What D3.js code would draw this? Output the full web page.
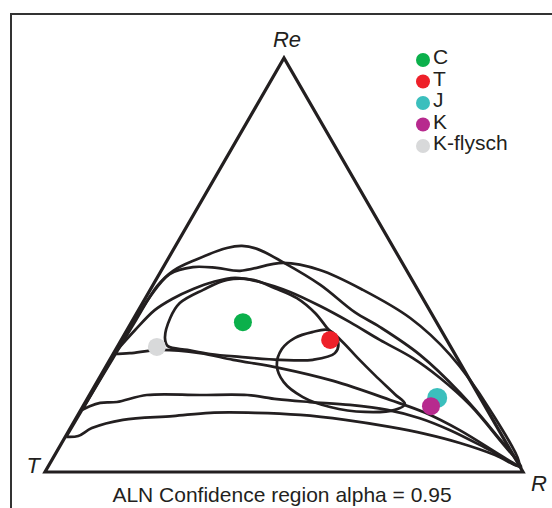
<!DOCTYPE html>
<html>
<head>
<meta charset="utf-8">
<script src="https://cdn.jsdelivr.net/npm/d3@7"></script>
<style>
  body { margin: 0; background: #fff; }
  svg { display: block; font-family: "Liberation Sans", Arial, sans-serif; }
</style>
</head>
<body>
<svg id="chart"></svg>
<script>
// groups and their mean compositions, in % of R and Re (T = 100 - R - Re)
const groups = ["C", "T", "J", "K", "K-flysch"];
const groupR = [23.3, 43.7, 73.1, 72.8, 8.3];
const groupRe = [36.2, 31.9, 17.9, 15.9, 30.2];
const groupColors = ["#0bb04b", "#ee2029", "#3bbfbd", "#b72a8e", "#d8d9da"];

const vertexLabels = ["T", "R", "Re"];
const title = "ALN Confidence region alpha = 0.95";

// confidence region outlines, [R, Re] in %
const regionA = [[0.2, 8.5], [0.3, 17.4], [0.5, 27.1], [0.7, 36.7], [1.0, 44.9], [2.5, 48.6], [6.1, 51.4],
  [11.0, 54.1], [13.9, 54.6], [17.4, 53.9], [24.4, 50.7], [35.0, 45.2], [45.5, 38.6], [52.6, 35.0],
  [64.3, 28.3], [77.3, 19.1], [89.4, 9.4], [98.6, 1.4], [92.1, 4.1], [83.3, 7.0], [74.9, 9.2],
  [66.7, 10.9], [56.5, 12.6], [46.5, 13.8], [36.8, 14.3], [27.4, 14.3], [20.0, 13.5], [10.0, 12.6],
  [4.5, 10.6], [2.6, 8.7], [0.2, 8.5]];
const regionB = [[0.3, 15.0], [0.3, 23.7], [0.4, 33.1], [0.8, 42.3], [2.2, 47.8], [6.2, 49.5], [11.3, 49.3],
  [16.5, 48.6], [24.6, 50.5], [33.1, 48.8], [44.5, 44.0], [57.8, 37.2], [70.6, 28.3], [85.6, 15.0],
  [98.3, 1.7], [90.4, 5.3], [79.7, 10.1], [71.9, 13.0], [64.1, 15.0], [55.7, 16.2], [47.0, 16.9],
  [39.7, 17.6], [33.0, 18.6], [23.1, 18.6], [12.0, 18.6], [6.6, 16.9], [3.2, 16.7], [1.4, 15.9], [0.3, 15.0]];
const regionC = [[0.1, 28.5], [1.7, 34.3], [3.4, 39.1], [5.7, 41.8], [8.9, 44.2], [12.2, 45.9], [16.3, 46.9],
  [22.0, 45.9], [29.5, 43.5], [37.5, 40.1], [45.7, 36.2], [54.1, 31.9], [63.2, 27.5], [71.3, 22.7],
  [80.8, 16.2], [91.3, 7.7], [99.0, 1.2], [94.5, 3.4], [81.7, 10.1], [72.4, 14.3], [63.5, 17.4],
  [49.3, 22.0], [36.6, 25.1], [25.8, 27.1], [18.1, 28.7], [9.3, 29.5], [3.4, 28.7], [0.1, 28.5]];
const regionD = [[8.9, 32.4], [7.6, 37.2], [7.8, 40.8], [11.1, 44.0], [14.9, 46.4], [20.3, 46.4], [25.9, 44.4],
  [31.7, 42.0], [37.3, 38.4], [41.6, 34.8], [45.5, 31.6], [46.3, 28.7], [42.5, 27.1], [35.6, 27.1],
  [26.9, 27.8], [20.3, 28.5], [15.0, 29.5], [10.5, 30.4]];
const regionE = [[35.6, 25.8], [34.7, 29.7], [36.1, 32.4], [39.0, 33.8], [42.1, 34.3], [46.3, 31.6], [51.7, 27.5],
  [57.3, 23.4], [63.8, 18.8], [67.1, 16.4], [65.7, 15.0], [59.7, 14.5], [51.8, 15.7], [44.9, 18.1], [39.1, 21.7]];

const width = 552, height = 508;
const ink = "#231f20";

const svg = d3.select("#chart").attr("width", width).attr("height", height);

// ternary -> screen through two linear scales (base and height of the triangle)
const xScale = d3.scaleLinear().domain([0, 1]).range([45, 523]);
const yScale = d3.scaleLinear().domain([0, 1]).range([472, 58]);
const px = (r, re) => xScale(r / 100 + re / 200);
const py = (r, re) => yScale(re / 100);

// frame
svg.append("rect")
  .attr("x", 11).attr("y", 14)
  .attr("width", 700).attr("height", 700)
  .attr("fill", "none").attr("stroke", "#333").attr("stroke-width", 2);

// triangle
const corners = [[0, 0], [100, 0], [0, 100]];
svg.append("path")
  .attr("d", d3.line().x(d => px(d[0], d[1])).y(d => py(d[0], d[1]))(corners) + "Z")
  .attr("fill", "none").attr("stroke", ink).attr("stroke-width", 3.2)
  .attr("stroke-linejoin", "miter");

// regions
const openLine = d3.line().x(d => px(d[0], d[1])).y(d => py(d[0], d[1]))
  .curve(d3.curveCatmullRom.alpha(0.5));
const closedLine = d3.line().x(d => px(d[0], d[1])).y(d => py(d[0], d[1]))
  .curve(d3.curveCatmullRomClosed.alpha(0.5));

svg.selectAll(".region-open")
  .data([regionA, regionB, regionC])
  .join("path")
  .attr("class", "region-open")
  .attr("d", openLine)
  .attr("fill", "none").attr("stroke", ink).attr("stroke-width", 2.7);

svg.selectAll(".region-closed")
  .data([regionD, regionE])
  .join("path")
  .attr("class", "region-closed")
  .attr("d", closedLine)
  .attr("fill", "none").attr("stroke", ink).attr("stroke-width", 2.7);

// group means
const pointRadius = [9, 9, 10, 9, 9];
svg.selectAll(".mean")
  .data(groups)
  .join("circle")
  .attr("class", "mean")
  .attr("cx", (d, i) => px(groupR[i], groupRe[i]))
  .attr("cy", (d, i) => py(groupR[i], groupRe[i]))
  .attr("r", (d, i) => pointRadius[i])
  .attr("fill", (d, i) => groupColors[i]);

// vertex labels
svg.append("text").attr("x", 40).attr("y", 473).attr("text-anchor", "end")
  .attr("font-size", 22).attr("font-style", "italic").attr("fill", ink).text(vertexLabels[0]);
svg.append("text").attr("x", 531).attr("y", 491)
  .attr("font-size", 22).attr("font-style", "italic").attr("fill", ink).text(vertexLabels[1]);
svg.append("text").attr("x", 287).attr("y", 47).attr("text-anchor", "middle")
  .attr("font-size", 22).attr("font-style", "italic").attr("fill", ink).text(vertexLabels[2]);

// title
svg.append("text").attr("x", 282).attr("y", 502).attr("text-anchor", "middle")
  .attr("font-size", 21).attr("fill", ink).text(title);

// legend, rows packed tightly as in the original
const legendY = d3.scalePoint().domain(groups).range([60, 146]);
const legend = svg.selectAll(".legend")
  .data(groups)
  .join("g")
  .attr("class", "legend")
  .attr("transform", d => `translate(423,${legendY(d)})`);
legend.append("circle").attr("r", 7).attr("fill", (d, i) => groupColors[i]);
legend.append("text").attr("x", 10).attr("y", 4)
  .attr("font-size", 21).attr("fill", ink).text(d => d);
</script>
</body>
</html>
